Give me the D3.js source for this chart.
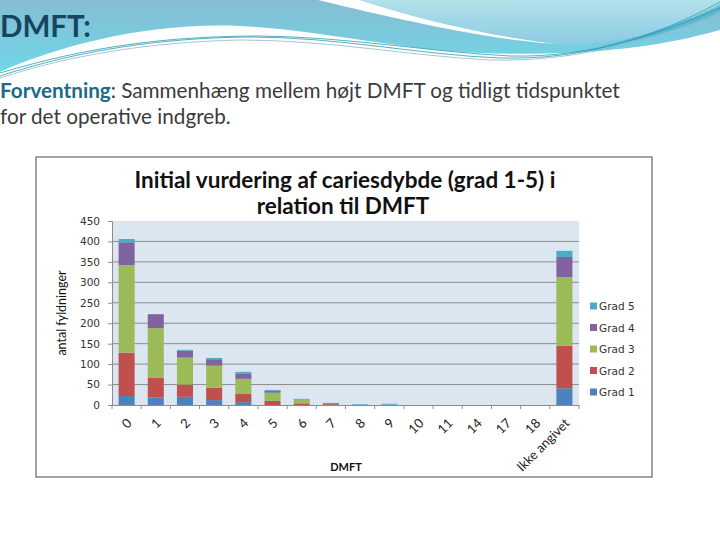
<!DOCTYPE html>
<html>
<head>
<meta charset="utf-8">
<script src="https://cdn.jsdelivr.net/npm/d3@7"></script>
<style>
  body { margin: 0; background: #fff; }
  svg { display: block; }
</style>
</head>
<body>
<svg id="slide" width="720" height="540"></svg>
<script>
// DMFT categories and number of fillings per caries grade
const categories = ["0", "1", "2", "3", "4", "5", "6", "7", "8", "9", "10", "11", "14", "17", "18", "Ikke angivet"];
const grad1 = [22, 18, 20, 12, 7, 0, 0, 0, 1, 1, 0, 0, 0, 0, 0, 41];
const grad2 = [106, 49, 30, 30, 21, 10, 4, 2, 0, 0, 0, 0, 0, 0, 0, 104];
const grad3 = [214, 121, 66, 54, 36, 20, 8, 1, 0, 0, 0, 0, 0, 0, 0, 168];
const grad4 = [56, 34, 17, 16, 12, 5, 1, 2, 0, 0, 0, 0, 0, 0, 0, 49];
const grad5 = [8, 0, 2, 3, 5, 2, 2, 0, 1, 2, 0, 0, 0, 0, 0, 15];
const seriesNames = ["Grad 1", "Grad 2", "Grad 3", "Grad 4", "Grad 5"];
const yTicks = [0, 50, 100, 150, 200, 250, 300, 350, 400, 450];

const colors = ["#4f81bd", "#c0504d", "#9bbb59", "#8064a2", "#4bacc6"];

const svg = d3.select("#slide");
const defs = svg.append("defs");

// ---- slide header decoration ----
const g1 = defs.append("linearGradient").attr("id", "band").attr("x1", 0).attr("y1", 0).attr("x2", 0).attr("y2", 1);
g1.append("stop").attr("offset", "0%").attr("stop-color", "#86bcd3");
g1.append("stop").attr("offset", "100%").attr("stop-color", "#6fd8e8");
const g2 = defs.append("linearGradient").attr("id", "light").attr("x1", 0).attr("y1", 0).attr("x2", 0).attr("y2", 1);
g2.append("stop").attr("offset", "0%").attr("stop-color", "#b2e2ea");
g2.append("stop").attr("offset", "100%").attr("stop-color", "#8ccbe4");

svg.append("path")
    .attr("d", "M0,0 H720 V30 C650,50 570,56 480,53 C400,50 320,30 240,26 C150,22 60,45 0,72 Z")
    .attr("fill", "url(#band)");
// white swoosh
svg.append("path")
    .attr("d", "M318,0 H360 C420,20 500,38 560,44 C500,42 400,20 318,0 Z")
    .attr("fill", "#fff");
// light area top right
svg.append("path")
    .attr("d", "M360,0 H720 V4 C670,30 620,46 560,44 C500,38 420,20 360,0 Z")
    .attr("fill", "url(#light)");
svg.append("path")
    .attr("d", "M720,12 C680,30 640,42 600,46 C640,38 690,20 720,6 Z")
    .attr("fill", "#4fb3cf").attr("opacity", 0.7);
// thin lines
const lines = [
  "M0,76 C80,50 160,38 250,37 C340,37 420,55 500,58 C580,60 650,40 720,2",
  "M0,73 C90,46 170,36 260,36 C350,37 430,52 510,56 C590,58 660,34 720,8",
  "M0,78 C70,55 150,42 240,40 C330,40 410,56 490,60 C570,62 640,44 720,14"
];
svg.selectAll(".wave").data(lines).join("path")
    .attr("class", "wave")
    .attr("d", d => d)
    .attr("fill", "none")
    .attr("stroke", (d, i) => i === 2 ? "#8fb8c8" : "#2a9db3")
    .attr("stroke-width", 0.8);

svg.append("text")
    .attr("x", 0).attr("y", 37)
    .attr("font-family", "Lato, 'Open Sans', sans-serif")
    .attr("font-weight", "bold")
    .attr("font-size", 29.5)
    .attr("fill", "#15455f")
    .text("DMFT:");

const intro = svg.append("text")
    .attr("x", 0).attr("y", 98)
    .attr("font-family", "Lato, 'Open Sans', sans-serif")
    .attr("font-size", 20.7)
    .attr("fill", "#3b3b3b");
intro.append("tspan").attr("font-weight", "bold").attr("fill", "#1c6a86").text("Forventning");
intro.append("tspan").text(": Sammenhæng mellem højt DMFT og tidligt tidspunktet");
svg.append("text")
    .attr("x", 0).attr("y", 124)
    .attr("font-family", "Lato, 'Open Sans', sans-serif")
    .attr("font-size", 20.7)
    .attr("fill", "#3b3b3b")
    .text("for det operative indgreb.");

// ---- chart ----
const frame = {x: 36, y: 157, w: 616, h: 320};
svg.append("rect")
    .attr("x", frame.x).attr("y", frame.y)
    .attr("width", frame.w).attr("height", frame.h)
    .attr("fill", "#fff").attr("stroke", "#858585").attr("stroke-width", 1.5);

const plot = {left: 112, right: 579, top: 221, bottom: 405};

const x = d3.scaleBand()
    .domain(categories)
    .range([plot.left, plot.right])
    .paddingInner(0.45)
    .paddingOuter(0.225);

const y = d3.scaleLinear()
    .domain([0, 450])
    .range([plot.bottom, plot.top]);

svg.append("rect")
    .attr("x", plot.left).attr("y", plot.top)
    .attr("width", plot.right - plot.left).attr("height", plot.bottom - plot.top)
    .attr("fill", "#dce6f1");

// gridlines
svg.append("g")
    .selectAll("line")
    .data(yTicks.filter(d => d > 0 && d < 450))
    .join("line")
    .attr("x1", plot.left).attr("x2", plot.right)
    .attr("y1", d => y(d)).attr("y2", d => y(d))
    .attr("stroke", "#8c8c8c").attr("stroke-width", 1);

// stacked bars
const table = categories.map((c, i) => ({
  cat: c, "Grad 1": grad1[i], "Grad 2": grad2[i], "Grad 3": grad3[i], "Grad 4": grad4[i], "Grad 5": grad5[i]
}));
const stack = d3.stack().keys(seriesNames)(table);

svg.append("g")
    .selectAll("g")
    .data(stack)
    .join("g")
    .attr("fill", (d, i) => colors[i])
    .selectAll("rect")
    .data(d => d)
    .join("rect")
    .attr("x", d => x(d.data.cat))
    .attr("width", x.bandwidth())
    .attr("y", d => y(d[1]))
    .attr("height", d => y(d[0]) - y(d[1]));

// y axis
const yAxis = svg.append("g")
    .attr("transform", `translate(${plot.left},0)`)
    .call(d3.axisLeft(y).tickValues(yTicks).tickSize(4).tickPadding(8));
yAxis.select(".domain").attr("stroke", "#8c8c8c");
yAxis.selectAll(".tick line").attr("stroke", "#8c8c8c");
yAxis.selectAll(".tick text")
    .attr("font-family", "'DejaVu Sans', sans-serif")
    .attr("font-size", 10.5)
    .attr("fill", "#333");

// x axis
const xAxis = svg.append("g")
    .attr("transform", `translate(0,${plot.bottom})`)
    .call(d3.axisBottom(x).tickSize(0).tickPadding(0));
xAxis.select(".domain").attr("stroke", "#8c8c8c");
xAxis.selectAll(".tick text")
    .attr("font-family", "Lato, 'Open Sans', sans-serif")
    .attr("font-size", 13)
    .attr("fill", "#222")
    .attr("text-anchor", "end")
    .attr("dy", 0)
    .attr("transform", `translate(6,19) rotate(-45)`);
// tick marks on category boundaries
svg.append("g")
    .selectAll("line")
    .data(d3.range(categories.length + 1))
    .join("line")
    .attr("x1", i => plot.left + i * x.step()).attr("x2", i => plot.left + i * x.step())
    .attr("y1", plot.bottom).attr("y2", plot.bottom + 4)
    .attr("stroke", "#8c8c8c");

// titles
const title = svg.append("text")
    .attr("x", 345).attr("text-anchor", "middle")
    .attr("font-family", "Lato, 'Open Sans', sans-serif")
    .attr("font-weight", "bold")
    .attr("font-size", 22.5)
    .attr("fill", "#111");
title.append("tspan").attr("x", 345).attr("y", 188).text("Initial vurdering af cariesdybde (grad 1-5) i");
title.append("tspan").attr("x", 343).attr("y", 214).text("relation til DMFT");

svg.append("text")
    .attr("transform", "translate(66,313) rotate(-90)")
    .attr("text-anchor", "middle")
    .attr("font-family", "Lato, 'Open Sans', sans-serif")
    .attr("font-size", 12.5)
    .attr("fill", "#111")
    .text("antal fyldninger");

svg.append("text")
    .attr("x", 346).attr("y", 471)
    .attr("text-anchor", "middle")
    .attr("font-family", "Lato, 'Open Sans', sans-serif")
    .attr("font-weight", "bold")
    .attr("font-size", 11)
    .attr("fill", "#111")
    .text("DMFT");

// legend (Grad 5 on top)
const legend = svg.append("g")
    .selectAll("g")
    .data(seriesNames.map((n, i) => ({name: n, color: colors[i], i})).reverse())
    .join("g")
    .attr("transform", (d, k) => `translate(590,${306 + k * 21.5})`);
legend.append("rect")
    .attr("x", 0).attr("y", -3.5).attr("width", 7).attr("height", 7)
    .attr("fill", d => d.color);
legend.append("text")
    .attr("x", 9).attr("y", 4)
    .attr("font-family", "'DejaVu Sans', sans-serif")
    .attr("font-size", 10.5)
    .attr("fill", "#333")
    .text(d => d.name);
</script>
</body>
</html>
